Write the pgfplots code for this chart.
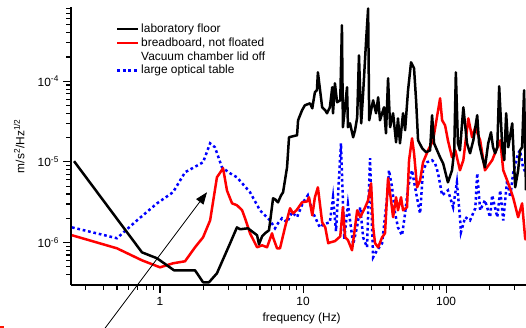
\documentclass[border=0pt]{standalone}
\usepackage{fontspec}
\setmainfont{Liberation Sans}
\usepackage{pgfplots}
\pgfplotsset{compat=1.18}
\usetikzlibrary{arrows.meta}
\begin{document}
\fontsize{11.9pt}{13.5pt}\selectfont
\begin{tikzpicture}
\useasboundingbox (0,0) rectangle (526pt,328pt);
\begin{axis}[
  at={(71pt,43pt)}, anchor=south west,
  scale only axis, width=455pt, height=278pt,
  xmode=log, ymode=log,
  xmin=0.2386, xmax=362, ymin=2.97e-7, ymax=8.35e-4,
  axis lines*=left,
  axis line style={line width=1.1pt, -},
  tick align=outside,
  major tick length=8pt, minor tick length=5pt,
  every tick/.style={line width=1.1pt, black},
  xtick={1,10,100}, xticklabels={1,10,100},
  minor xtick={0.3,0.4,0.5,0.6,0.7,0.8,0.9,2,3,4,5,6,7,8,9,20,30,40,50,60,70,80,90,200,300},
  ytick={1e-6,1e-5,1e-4},
  yticklabels={10\textsuperscript{-6},10\textsuperscript{-5},10\textsuperscript{-4}},
  minor ytick={4e-7,5e-7,6e-7,7e-7,8e-7,9e-7,2e-6,3e-6,4e-6,5e-6,6e-6,7e-6,8e-6,9e-6,2e-5,3e-5,4e-5,5e-5,6e-5,7e-5,8e-5,9e-5,2e-4,3e-4,4e-4,5e-4,6e-4,7e-4,8e-4},
  xlabel={frequency (Hz)},
  xlabel style={at={(axis description cs:0.507,-0.122)}, anchor=center},
  ylabel={m/s\textsuperscript{2}/Hz\textsuperscript{1/2}},
  ylabel style={at={(axis description cs:-0.114,0.5)}, anchor=center},
  legend style={at={(axis description cs:0.099,0.945)}, anchor=north west, draw=none, fill=none,
    row sep=0.3pt, inner sep=0pt, nodes={inner sep=1.5pt}},
  legend cell align=left,
  legend image code/.code={\draw[#1] (0pt,0pt) -- (21pt,0pt);},
]
% large optical table (blue dotted)
\addplot[forget plot, blue, line width=2.5pt, dash pattern=on 2.7pt off 2.8pt] coordinates {
(0.2425,1.54e-6) (0.500,1.13e-6) (0.690,1.88e-6) (0.953,3.06e-6) (1.233,4.20e-6)
(1.496,7.43e-6) (2.00,9.89e-6) (2.24,1.70e-5) (2.42,1.52e-5) (2.71,8.57e-6)
(3.09,7.22e-6) (3.45,6.44e-6) (4.26,4.20e-6) (5.00,2.51e-6) (5.88,1.88e-6)
(6.37,1.50e-6) (6.68,1.73e-6) (7.13,2.00e-6) (7.73,1.78e-6) (8.38,2.37e-6)
(9.08,2.06e-6) (10.0,3.15e-6) (10.8,3.85e-6) (11.7,2.37e-6) (13.1,1.54e-6)
(13.8,1.68e-6) (15.4,1.78e-6) (16.2,3.64e-6) (17.0,1.38e-6) (18.4,1.70e-5)
(19.4,1.10e-6) (20.6,2.98e-6) (22.4,9.50e-7) (23.9,1.59e-6) (25.1,2.74e-6)
(26.3,1.16e-6) (28.0,8.72e-7) (29.4,1.11e-5) (30.4,1.42e-6) (30.9,6.55e-7)
(32.9,8.00e-7) (35.7,9.77e-7) (38.7,3.64e-6) (39.9,7.87e-6) (41.9,4.84e-6)
(44.0,2.30e-6) (46.1,1.54e-6) (49.2,1.23e-6) (51.7,2.30e-6) (54.2,4.84e-6)
(57.8,7.87e-6) (60.7,4.84e-6) (63.7,3.06e-6) (65.8,2.30e-6) (69.0,7.87e-6)
(73.6,9.89e-6) (79.8,1.05e-5) (83.8,9.61e-6) (87.9,7.22e-6) (93.8,3.85e-6)
(103,4.44e-6) (112,2.74e-6) (119,5.58e-6) (125,2.06e-6) (127,1.34e-6)
(136,2.06e-6) (147,1.88e-6) (160,2.66e-6) (165,7.22e-6) (173,2.51e-6)
(187,3.34e-6) (203,2.06e-6) (210,3.85e-6) (228,2.06e-6) (239,4.44e-6)
(251,1.88e-6) (267,5.91e-6) (281,3.64e-6) (294,7.22e-6) (319,1.28e-5)
(329,1.39e-5) (345,8.57e-6) (362,7.22e-6)
};
% breadboard, not floated (red)
\addplot[forget plot, red, line width=2.5pt, line join=round] coordinates {
(0.2425,1.23e-6) (0.500,8.47e-7) (0.748,6.01e-7) (1.0,4.92e-7) (1.233,5.52e-7)
(1.496,5.85e-7) (1.757,8.72e-7) (2.00,1.16e-6) (2.24,1.88e-6) (2.50,6.44e-6)
(2.76,8.34e-6) (2.94,4.4e-6) (3.19,3.06e-6) (3.45,2.90e-6) (3.75,2.51e-6)
(3.93,2.00e-6) (4.26,1.30e-6) (4.77,8.72e-7) (5.17,9.23e-7) (5.60,8.72e-7)
(6.07,1.30e-6) (6.17,1.16e-6) (6.58,8.47e-7) (6.90,8.47e-7) (7.48,1.54e-6)
(8.11,2.66e-6) (8.51,2.30e-6) (9.0,2.51e-6) (9.84,3.15e-6) (10.7,3.24e-6)
(11.0,3.64e-6) (11.6,2.17e-6) (12.1,3.64e-6) (12.7,4.84e-6) (13.6,1.78e-6)
(14.3,1.54e-6) (15.0,9.77e-7) (15.4,1.00e-6) (16.7,1.04e-6) (18.2,1.19e-6)
(19.0,2.74e-6) (19.7,1.16e-6) (20.6,1.07e-6) (22.0,8.00e-7) (23.9,2.51e-6)
(25.1,2.06e-6) (27.2,2.74e-6) (28.5,3.34e-6) (29.9,5.43e-6) (30.9,1.54e-6)
(31.9,9.77e-7) (33.5,8.72e-7) (35.7,1.16e-6) (37.4,1.30e-6) (39.3,6.26e-6)
(41.2,3.34e-6) (42.6,2.06e-6) (44.7,3.64e-6) (46.1,2.51e-6) (48.4,3.64e-6)
(50.0,2.51e-6) (53.3,2.74e-6) (55.1,1.05e-5) (57.8,1.96e-5) (59.7,1.28e-5)
(62.7,4.84e-6) (65.8,5.91e-6) (69.0,9.89e-6) (74.8,1.39e-5) (81.1,1.85e-5)
(90.8,6.15e-5) (93.8,3.28e-5) (98.4,2.84e-5) (103,1.85e-5) (110,1.14e-5)
(116,1.39e-5) (125,7.87e-6) (132,1.05e-5) (143,3.47e-5) (152,2.02e-5)
(160,2.69e-5) (173,1.85e-5) (187,7.87e-6) (210,1.05e-5) (239,1.85e-5)
(251,7.87e-6) (272,5.43e-6) (294,3.64e-6) (319,2.06e-6) (340,3.06e-6)
(357,1.13e-6) (362,1.07e-6)
};
% laboratory floor (black)
\addplot[forget plot, black, line width=2.5pt, line join=round] coordinates {
(0.2506,1.02e-5) (0.748,7.55e-7) (0.953,6.37e-7) (1.253,4.52e-7) (1.757,4.52e-7)
(2.00,3.21e-7) (2.20,3.21e-7) (2.50,4.15e-7) (3.09,9.77e-7) (3.45,1.54e-6)
(3.63,1.46e-6) (4.12,1.50e-6) (4.77,1.23e-6) (4.92,9.50e-7) (5.17,1.19e-6)
(5.42,1.30e-6) (5.78,1.42e-6) (6.17,3.53e-6) (6.37,3.44e-6) (6.68,3.15e-6)
(7.02,3.85e-6) (7.25,4.20e-6) (7.73,8.57e-6) (7.98,2.02e-5) (8.51,2.08e-5)
(9.08,2.14e-5) (9.23,3.28e-5) (9.84,4.37e-5) (10.3,5.04e-5) (11.2,5.33e-5)
(11.6,4.62e-5) (12.1,7.31e-5) (12.5,7.73e-5) (12.7,1.29e-4) (13.6,4.76e-5)
(14.3,4.37e-5) (14.7,4.01e-5) (15.4,4.76e-5) (16.0,8.43e-5) (16.2,4.01e-5)
(16.7,9.44e-5) (17.3,5.49e-5) (18.2,5.81e-5) (18.7,4.95e-4) (19.0,2.69e-5)
(20.3,8.43e-5) (20.6,2.69e-5) (21.3,3.01e-5) (22.4,2.02e-5) (23.1,2.47e-5)
(23.9,3.57e-5) (24.6,2.10e-4) (25.5,3.01e-5) (26.3,7.10e-5) (27.6,3.23e-4)
(28.5,8.0e-4) (29.0,3.28e-5) (29.9,4.37e-5) (30.9,5.81e-5) (32.4,4.01e-5)
(33.5,6.33e-5) (34.5,3.28e-5) (36.8,4.76e-5) (38.0,2.26e-5) (39.3,1.09e-4)
(40.6,2.69e-5) (42.6,4.01e-5) (44.7,1.75e-5) (46.1,3.47e-5) (47.6,1.70e-5)
(50.0,4.01e-5) (51.7,2.47e-5) (54.2,7.73e-5) (56.9,1.72e-4) (59.7,1.45e-4)
(61.7,5.81e-5) (63.7,1.85e-5) (68.0,1.48e-5) (72.5,1.32e-5) (77.3,1.39e-5)
(79.8,3.79e-5) (82.4,1.70e-5) (86.5,1.39e-5) (90.8,1.14e-5) (95.3,9.61e-6)
(103,5.58e-6) (110,7.87e-6) (114,1.39e-5) (117,1.29e-4) (121,1.70e-5)
(125,1.39e-5) (132,4.76e-5) (140,1.70e-5) (147,1.28e-5) (155,1.85e-5)
(165,3.79e-5) (170,1.70e-5) (179,1.14e-5) (187,8.57e-6) (197,1.70e-5)
(206,2.33e-5) (213,1.52e-5) (220,1.28e-5) (228,1.52e-5) (235,8.67e-5)
(247,1.52e-5) (255,1.05e-5) (263,4.01e-5) (272,1.52e-5) (290,3.01e-5)
(304,4.84e-6) (319,7.87e-6) (329,1.39e-5) (340,1.52e-5) (351,7.73e-5)
(362,4.44e-6)
};
\addlegendimage{black, line width=2.5pt}
\addlegendentry{laboratory floor}
\addlegendimage{red, line width=2.5pt}
\addlegendentry{breadboard, not floated}
\addlegendimage{empty legend}
\addlegendentry{Vacuum chamber lid off}
\addlegendimage{blue, line width=2.5pt, dash pattern=on 2.7pt off 2.8pt}
\addlegendentry{large optical table}
\coordinate (arrtail) at (axis cs:0.412,8.63e-8);
\coordinate (arrtip) at (axis cs:2.13,4.2e-6);
\end{axis}
\draw[line width=0.8pt, -{Triangle[length=12pt,width=9pt]}] (arrtail) -- (arrtip);
\fill[red!85!orange] (0pt,0pt) rectangle (3.5pt,1.6pt);
\end{tikzpicture}
\end{document}
